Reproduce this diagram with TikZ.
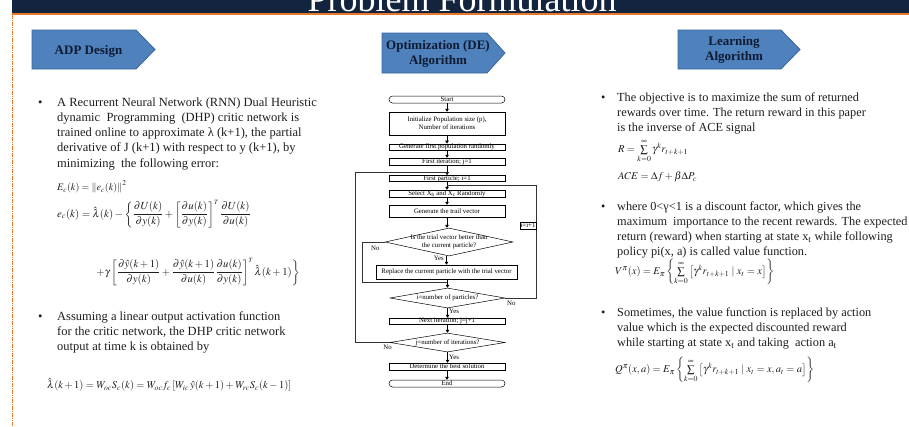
\documentclass[tikz,border=0pt]{standalone}
\usepackage{amsmath}
\usepackage{mathptmx}
\usepackage{fontspec}
\setmainfont{Liberation Serif}
\usetikzlibrary{arrows.meta,shapes.geometric,calc}

\definecolor{navy}{HTML}{13243F}
\definecolor{rulecol}{HTML}{E8792A}
\definecolor{banner}{HTML}{4F81BD}
\definecolor{bannerline}{HTML}{3B679A}
\definecolor{bannertext}{HTML}{0E1B33}
\definecolor{ink}{HTML}{1E1E1E}

\begin{document}
\begin{tikzpicture}[x=1pt,y=-1pt,
  line/.style={anchor=base west, inner sep=0pt, text=ink,
    font=\fontsize{12.5}{15.3}\selectfont},
  rline/.style={line, font=\fontsize{12.3}{15.3}\selectfont},
  eqn/.style={anchor=west, inner sep=0pt, text=ink,
    font=\fontsize{10.5}{12}\selectfont},
  bannerbox/.style={fill=banner, draw=bannerline, line width=0.8pt},
  bannerlabel/.style={inner sep=0pt, align=center, text=bannertext,
    font=\fontsize{13}{15}\selectfont\bfseries},
  fbox/.style={draw=black, line width=0.5pt, fill=white, inner sep=0pt,
    minimum width=116pt, font=\fontsize{6.8}{8}\selectfont, align=center},
  term/.style={fbox, rounded corners=3.5pt},
  fdia/.style={draw=black, line width=0.5pt, fill=white, diamond,
    inner sep=0pt},
  flabel/.style={inner sep=0pt, font=\fontsize{6.8}{8}\selectfont, align=center},
  flow/.style={draw=black, line width=0.5pt,
    -{Triangle[length=3pt,width=3.6pt]}},
  loop/.style={draw=black!80, line width=0.6pt},
]
\useasboundingbox (0,0) rectangle (909,426);
\fill[white] (0,0) rectangle (909,426);

% title band
\begin{scope}
  \clip (12,0) rectangle (909,13);
  \fill[navy] (12,0) rectangle (909,13);
  \node[anchor=base, inner sep=0pt, text=white,
    font=\fontsize{36}{40}\selectfont] (title) at (462,11) {Problem Formulation};
\end{scope}
\fill[rulecol] (12,12.8) rectangle (909,15);
\draw[rulecol, line width=1.3pt, dash pattern=on 1.6pt off 0.7pt] (12.5,15) -- (12.5,426);

% section banners
\draw[bannerbox] (32,30) -- (136,30) -- (155,49.5) -- (136,69) -- (32,69) -- cycle;
\node[bannerlabel] (adp) at (88.5,51) {ADP Design};
\draw[bannerbox] (382,33) -- (487,33) -- (505,53) -- (487,73) -- (382,73) -- cycle;
\node[bannerlabel] (opt) at (438,54) {Optimization (DE)\\Algorithm};
\draw[bannerbox] (678,30) -- (781,30) -- (800,49.5) -- (781,69) -- (678,69) -- cycle;
\node[bannerlabel] (learn) at (734,50) {Learning\\Algorithm};

% left column
\node[line] (b1) at (38,106) {•};
\node[line] (t1a) at (57,106) {A Recurrent Neural Network (RNN) Dual Heuristic};
\node[line] (t1b) at (57,121.3) {dynamic\ \ Programming\ \ (DHP) critic network is};
\node[line] (t1c) at (57,136.6) {trained online to approximate λ (k+1), the partial};
\node[line] (t1d) at (57,151.9) {derivative of J (k+1) with respect to y (k+1), by};
\node[line] (t1e) at (57,167.2) {minimizing\ \ the following error:};

\node[eqn, font=\fontsize{10}{12}\selectfont] (ec1) at (57,187) {$E_c(k)=\left\|e_c(k)\right\|^2$};
\node[eqn, font=\fontsize{10.8}{12}\selectfont] (ec2) at (57,214) {$e_c(k)=\hat{\lambda}(k)-\left\{\dfrac{\partial U(k)}{\partial y(k)}+\left[\dfrac{\partial u(k)}{\partial y(k)}\right]^{\scriptscriptstyle T}\dfrac{\partial U(k)}{\partial u(k)}\right.$};
\node[eqn, font=\fontsize{10.7}{12}\selectfont] (ec3) at (95,272) {$\left.+\gamma\left[\dfrac{\partial\hat{y}(k+1)}{\partial y(k)}+\dfrac{\partial\hat{y}(k+1)}{\partial u(k)}\dfrac{\partial u(k)}{\partial y(k)}\right]^{\scriptscriptstyle T}\hat{\lambda}(k+1)\right\}$};

\node[line] (b2) at (38,320) {•};
\node[line] (t2a) at (57,320) {Assuming a linear output activation function};
\node[line] (t2b) at (57,335.3) {for the critic network, the DHP critic network};
\node[line] (t2c) at (57,350.6) {output at time k is obtained by};

\node[eqn] (lam) at (47,385) {$\hat{\lambda}(k+1)=W_{oc}S_c(k)=W_{oc}f_c\left[W_{ic}\,\hat{y}(k+1)+W_{rc}S_c(k-1)\right]$};

% right column
\node[rline] (b3) at (601,101) {•};
\node[rline] (t3a) at (617,101) {The objective is to maximize the sum of returned};
\node[rline] (t3b) at (617,116.3) {rewards over time. The return reward in this paper};
\node[rline] (t3c) at (617,131.6) {is the inverse of ACE signal};
\node[eqn] (req) at (618,151) {$R=\sum\limits_{k=0}^{\infty}\gamma^k r_{t+k+1}$};
\node[eqn] (ace) at (618,177) {$ACE=\Delta f+\beta\Delta P_c$};

\node[rline] (b4) at (601,210) {•};
\node[rline] (t4a) at (617,210) {where 0<γ<1 is a discount factor, which gives the};
\node[rline] (t4b) at (617,225.3) {maximum\ \ importance to the recent rewards. The expected};
\node[rline] (t4c) at (617,240.6) {return (reward) when starting at state x\textsubscript{t} while following};
\node[rline] (t4d) at (617,255.9) {policy pi(x, a) is called value function.};
\node[eqn] (veq) at (615,272) {$V^{\pi}(x)=E_{\pi}\left\{\sum\limits_{k=0}^{\infty}\left[\gamma^k r_{t+k+1}\mid x_t=x\right]\right\}$};

\node[rline] (b5) at (601,316) {•};
\node[rline] (t5a) at (617,316) {Sometimes, the value function is replaced by action};
\node[rline] (t5b) at (617,331.3) {value which is the expected discounted reward};
\node[rline] (t5c) at (617,346.6) {while starting at state x\textsubscript{t} and taking\ \ action a\textsubscript{t}};
\node[eqn] (qeq) at (615,370) {$Q^{\pi}(x,a)=E_{\pi}\left\{\sum\limits_{k=0}^{\infty}\left[\gamma^k r_{t+k+1}\mid x_t=x,a_t=a\right]\right\}$};

% flowchart of the DE algorithm
\node[term, minimum height=7pt] (start) at (447,99.5) {Start};
\node[fbox, minimum height=23pt] (init) at (447,123.5) {Initialize Population size (p),\\Number of iterations};
\node[fbox, minimum height=6pt] (gen) at (447,147) {Generate first population randomly};
\node[fbox, minimum height=7pt] (iter) at (447,161.5) {First iteration; j=1};
\node[fbox, minimum height=5.5pt] (part) at (447,178.5) {First particle; i=1};
\node[fbox, minimum height=7pt] (sel) at (447,193.5) {Select X\textsubscript{b} and X\textsubscript{c} Randomly};
\node[fbox, minimum height=12pt] (trail) at (447,211) {Generate the trail vector};
\node[fdia, minimum width=128pt, minimum height=28pt] (d1) at (449,242) {};
\node[flabel] (d1t) at (d1) {Is the trial vector better than\\the current particle?};
\node[fbox, minimum width=141pt, minimum height=14pt] (rep) at (446.5,272) {Replace the current particle with the trial vector};
\node[fdia, minimum width=115pt, minimum height=20pt] (d2) at (447.5,298) {};
\node[flabel] (d2t) at (d2) {i=number of particles?};
\node[fbox, minimum height=6pt] (next) at (447,321) {Next iteration; j=j+1};
\node[fdia, minimum width=115pt, minimum height=19pt] (d3) at (447.5,342.5) {};
\node[flabel] (d3t) at (d3) {j=number of iterations?};
\node[fbox, minimum height=7pt] (best) at (447,366.5) {Determine the best solution};
\node[term, minimum height=7pt] (fin) at (447,383.5) {End};

\coordinate (m1) at (447,282);
\coordinate (m2) at (447,185);
\coordinate (m3) at (447,172);

\draw[flow] (start) -- (init);
\draw[flow] (init) -- (gen);
\draw[flow] (gen) -- (iter);
\draw[flow] (iter) -- (part);
\draw[flow] (part) -- (sel);
\draw[flow] (sel) -- (trail);
\draw[flow] (trail) -- (trail.south |- d1.north);
\draw[flow] (d1.south -| rep.north) -- (rep);
\draw[flow] (rep.south -| d2.north) -- (d2.north);
\draw[flow] (d2.south) -- (next.north -| d2.south);
\draw[flow] (next.south -| d3.north) -- (d3.north);
\draw[flow] (d3.south) -- (best.north -| d3.south);
\draw[flow] (best) -- (fin);

\draw[loop] (d1.west) -- ++(-22,0) |- (m1);
\draw[loop] (d2.east) -- ++(31,0) |- (m2);
\draw[loop] (d3.west) -- ++(-34,0) |- (m3);

\node[fbox, minimum width=16pt, minimum height=6.5pt] (inc) at (528,225.5) {i=i+1};

\node[flabel, anchor=west] (no1) at (371,248) {No};
\node[flabel, anchor=east] (yes1) at (444,258) {Yes};
\node[flabel, anchor=west] (no2) at (507,303) {No};
\node[flabel, anchor=west] (yes2) at (449,311) {Yes};
\node[flabel, anchor=east] (no3) at (392,347.5) {No};
\node[flabel, anchor=west] (yes3) at (449,357) {Yes};
\end{tikzpicture}
\end{document}
